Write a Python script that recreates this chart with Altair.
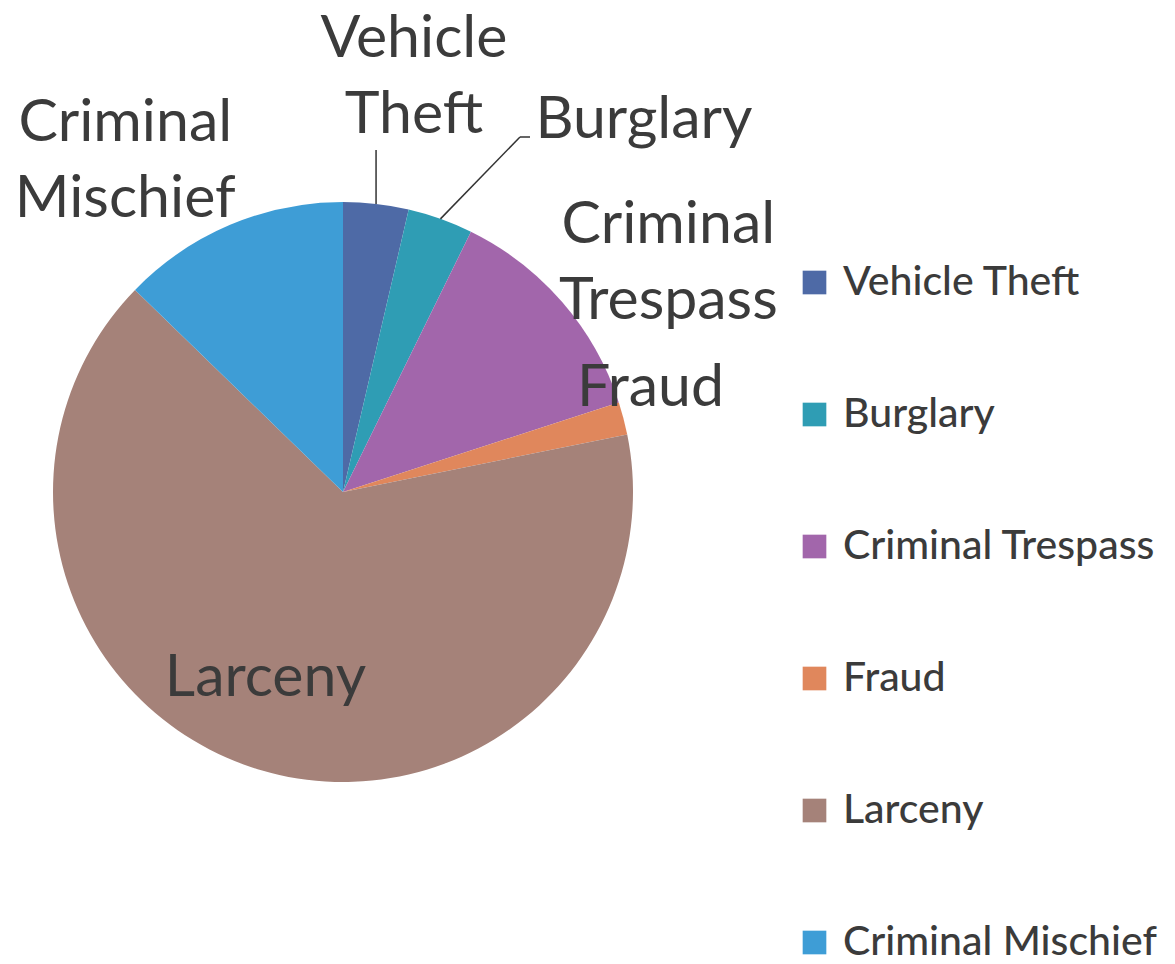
import math
import altair as alt
import pandas as pd

categories = ["Vehicle Theft", "Burglary", "Criminal Trespass", "Fraud", "Larceny", "Criminal Mischief"]
counts = [2, 2, 7, 1, 36, 7]
pie_labels = ["Vehicle\nTheft", "Burglary", "Criminal\nTrespass", "Fraud", "Larceny", "Criminal\nMischief"]
colors = ["#4e6aa6", "#2f9db4", "#a266ab", "#e0875c", "#a58279", "#3e9dd6"]

df = pd.DataFrame({"category": categories, "count": counts, "label": pie_labels,
                   "idx": list(range(len(categories)))})

CX, CY, R = 335, 484, 290
FONT = "Lato"
TXT = "#3b3b3b"

base = alt.Chart(df).encode(
    theta=alt.Theta("count:Q", stack=True),
    order=alt.Order("idx:Q"),
    x=alt.value(CX),
    y=alt.value(CY),
)

pie = base.mark_arc(outerRadius=R, stroke=None).encode(
    color=alt.Color(
        "category:N",
        scale=alt.Scale(domain=categories, range=colors),
        sort=categories,
        legend=alt.Legend(
            title=None, orient="none", legendX=786, legendY=254,
            symbolType="square", symbolSize=560, symbolStrokeWidth=0, symbolOpacity=1,
            labelFont=FONT, labelFontSize=41, labelFontWeight=500, labelColor=TXT, labelOffset=8,
            rowPadding=90, labelLimit=400,
        ),
    )
)

# per-label placement (radius from centre, extra offsets, alignment)
placements = {
    "Vehicle Theft": dict(radius=420, dx=23, dy=-36, align="center"),
    "Burglary": dict(radius=400, dx=58, dy=5, align="left"),
    "Criminal Trespass": dict(radius=400, dx=23, dy=-5, align="center"),
    "Fraud": dict(radius=320, dx=-2, dy=-23, align="center"),
    "Larceny": dict(radius=190, dx=-24, dy=4, align="center"),
    "Criminal Mischief": dict(radius=400, dx=-62, dy=-1, align="center"),
}

layers = [pie]
for cat, p in placements.items():
    layers.append(
        base.mark_text(
            radius=p["radius"], dx=p["dx"], dy=p["dy"], align=p["align"], baseline="middle",
            font=FONT, fontSize=59, color=TXT, lineBreak="\n", lineHeight=76,
        ).encode(
            text=alt.condition(f"datum.category == '{cat}'", alt.Text("label:N"), alt.value(""))
        )
    )

# leader lines from slice mid-angles on the pie edge
total = sum(counts)
def mid_angle(i):
    return 2 * math.pi * (sum(counts[:i]) + counts[i] / 2) / total

a0 = mid_angle(0)
vx = CX + R * math.sin(a0)
vy = CY - R * math.cos(a0)
lead1 = alt.Chart(df).mark_rule(color="#333333", strokeWidth=1.5).encode(
    x=alt.value(vx), x2=alt.value(vx), y=alt.value(vy), y2=alt.value(142)
).transform_filter("datum.idx == 0")

a1 = mid_angle(1)
bx = CX + R * math.sin(a1)
by = CY - R * math.cos(a1)
lead2 = alt.Chart(df).mark_rule(color="#333333", strokeWidth=1.5).encode(
    x=alt.value(bx), x2=alt.value(512), y=alt.value(by), y2=alt.value(129)
).transform_filter("datum.idx == 0")
lead3 = alt.Chart(df).mark_rule(color="#333333", strokeWidth=1.5).encode(
    x=alt.value(512), x2=alt.value(522), y=alt.value(129), y2=alt.value(129)
).transform_filter("datum.idx == 0")

chart = alt.layer(*layers, lead1, lead2, lead3).properties(
    width=1150, height=940, padding=0, background="white"
).configure_view(stroke=None)

chart.save("out.html", embed_options={"renderer": "svg", "actions": False})
